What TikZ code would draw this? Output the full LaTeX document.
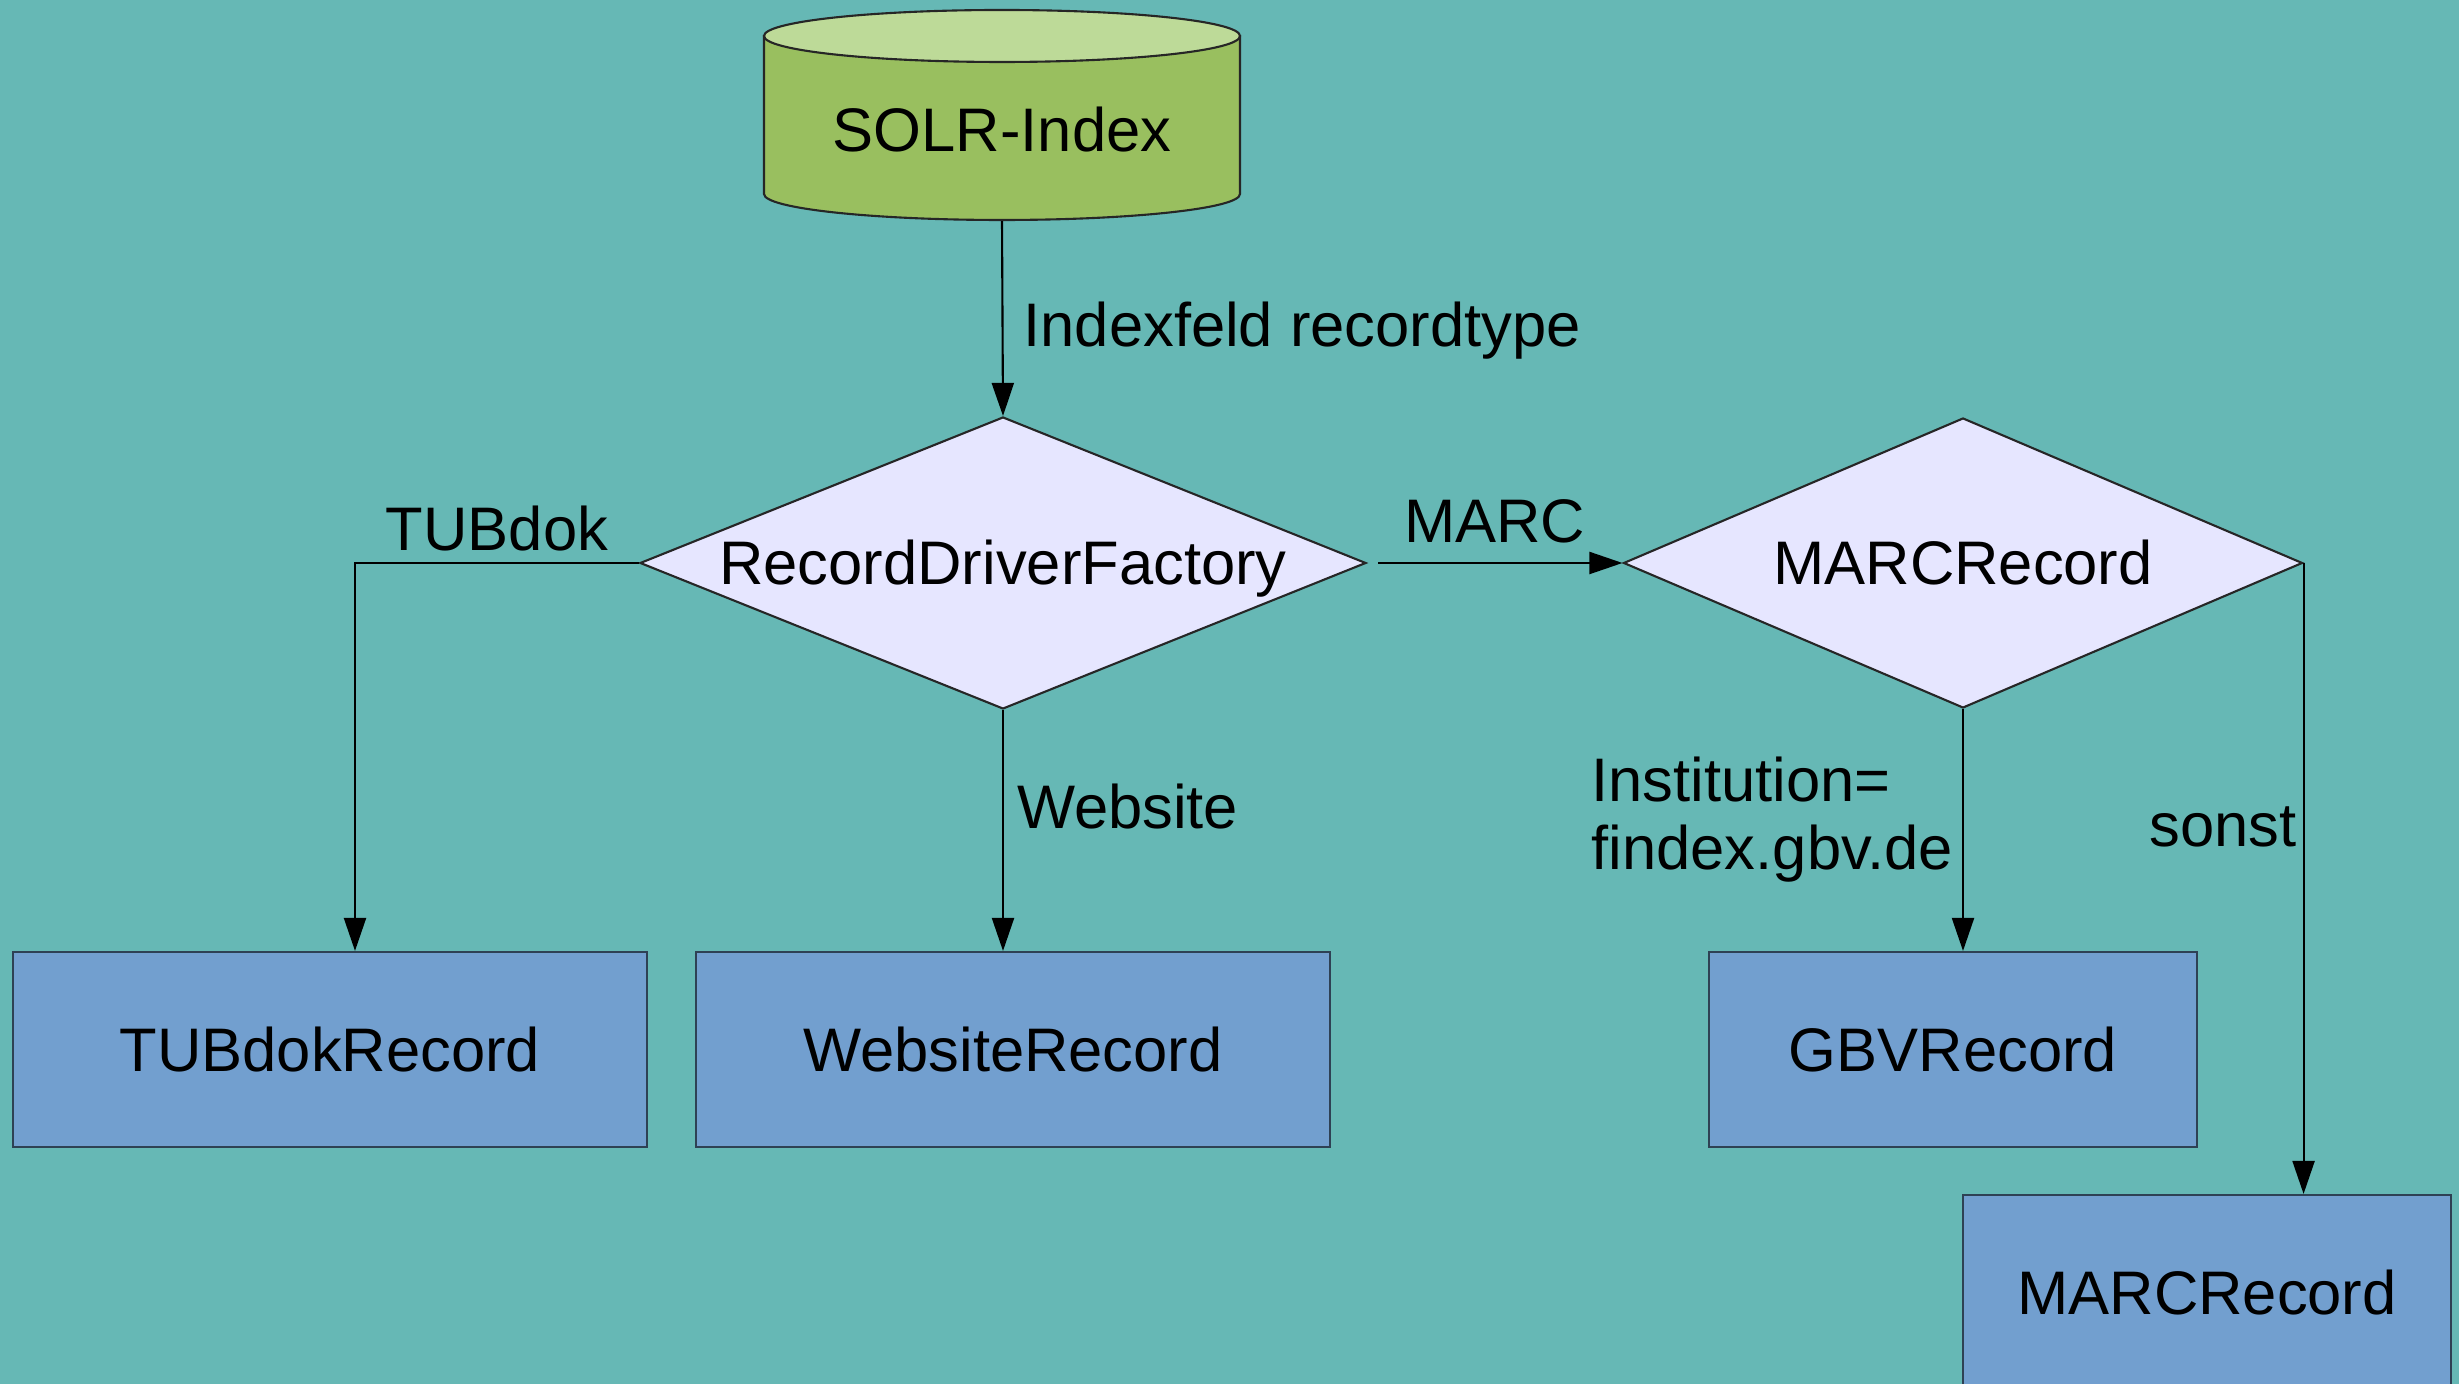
\documentclass[tikz,border=0pt]{standalone}
\usepackage{fontspec}
\setmainfont{Liberation Sans}
\usetikzlibrary{arrows.meta, positioning, shapes.geometric}
\definecolor{sfondo}{HTML}{66B8B5}
\definecolor{verdesolr}{HTML}{99BF5F}
\definecolor{verdechiaro}{HTML}{BDDA98}
\definecolor{lavanda}{HTML}{E6E6FF}
\definecolor{bluerec}{HTML}{729FCF}
\definecolor{bordo}{HTML}{2E4154}

\begin{document}
\begin{tikzpicture}[->, >={Triangle[length=3.3mm, width=2.2mm]},
			line width=0.6pt,
			every node/.style={font=\fontsize{17.5}{19.6}\selectfont},
			testo/.style={text height=0.44cm, text depth=0pt, inner sep=0pt},
			record/.style={rectangle, draw=bordo, fill=bluerec, testo, minimum height=1.95cm},
			scelta/.style={diamond, draw=black!85, fill=lavanda, testo}]
			
			\useasboundingbox (0,0) rectangle (24.59,-13.84);
			\fill[sfondo] (0,0) rectangle (24.59,-13.84);
			
			% Indice (cilindro)
			\draw[-, fill=verdesolr, draw=black!85] (7.64,-0.36) -- (7.64,-1.94)
				arc[start angle=180, end angle=360, x radius=2.38, y radius=0.26] -- (12.40,-0.36) -- cycle;
			\draw[-, fill=verdechiaro, draw=black!85] (10.02,-0.36) ellipse [x radius=2.38, y radius=0.26];
			\node[testo, minimum width=4.76cm, minimum height=1.8cm] (solr) at (10.02,-1.30) {SOLR-Index};
			
			% Decisioni
			\node[scelta, aspect=2.49, minimum width=7.26cm, minimum height=2.92cm] (rdf) at (10.03,-5.63) {RecordDriverFactory};
			\node[scelta, aspect=2.34, minimum width=6.79cm, minimum height=2.90cm] (marc) at (19.63,-5.63) {MARCRecord};
			
			% Record
			\node[record, minimum width=6.34cm] (tubdok) at (3.30,-10.495) {TUBdokRecord};
			\node[record, minimum width=6.34cm] (website) at (10.13,-10.495) {WebsiteRecord};
			\node[record, minimum width=4.88cm] (gbv) at (19.53,-10.495) {GBVRecord};
			\node[record, minimum width=4.88cm] (marcrec) at (22.07,-12.925) {MARCRecord};
			
			% --- Collegamenti ---
			\draw (solr.south) -- node[testo, right=2mm, pos=0.53] (lidx) {Indexfeld recordtype} (rdf.north);
			
			% Da RecordDriverFactory
			\draw (rdf.west) -| node[testo, above=1.1mm, pos=0.25] (ltub) {TUBdok} ([xshift=2.5mm]tubdok.north);
			\draw (rdf.south) -- node[testo, right=1.3mm, pos=0.40] (lweb) {Website} (rdf.south |- website.north);
			\draw[shorten <=1.1mm] (rdf.east) -- node[testo, above=1.9mm] (lmarc) {MARC} (marc.west);
			
			% Da MARCRecord
			\draw (marc.south) -- node[inner sep=0pt, align=left, left=0.9mm, pos=0.457] (linst) {Institution=\\findex.gbv.de} (marc.south |- gbv.north);
			\draw (marc.east) -- node[testo, left=0.6mm, pos=0.415] (lsonst) {sonst} (marc.east |- marcrec.north);
		\end{tikzpicture}
\end{document}
